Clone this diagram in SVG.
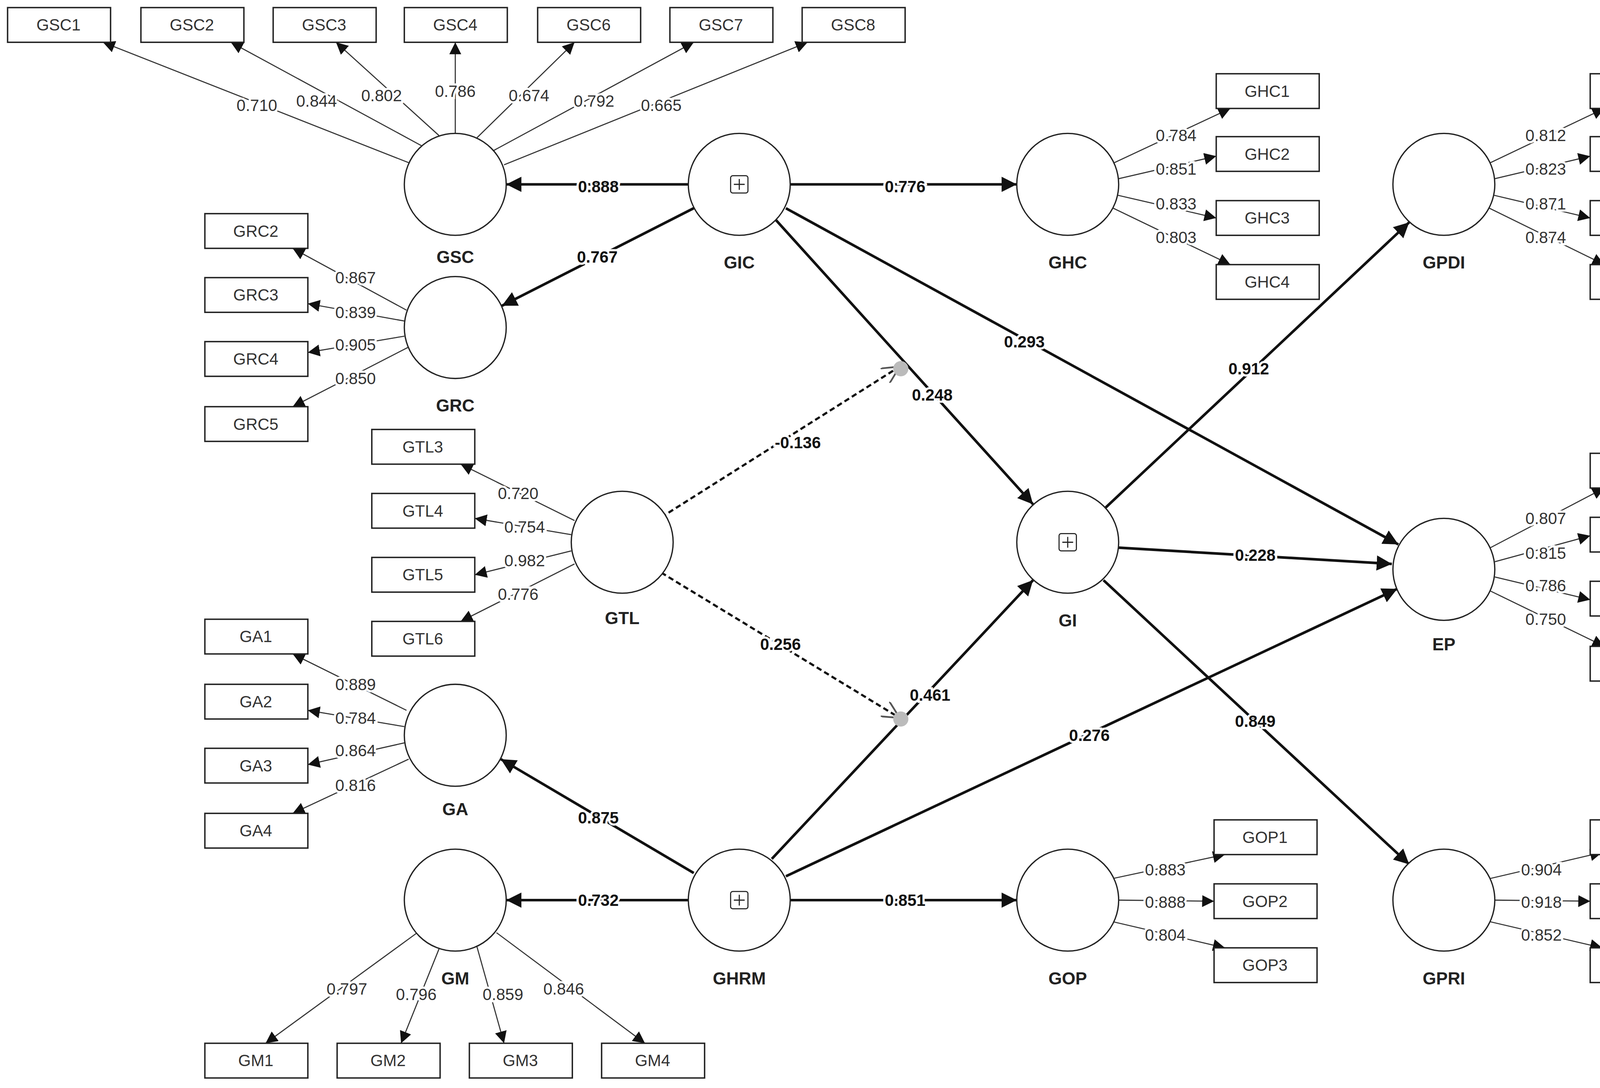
<svg xmlns="http://www.w3.org/2000/svg" width="4351" height="2784" viewBox="0 0 4351 2784">
<style>
.c{fill:#fff;stroke:#222;stroke-width:1.2}
.b{fill:#fff;stroke:#222;stroke-width:1.3}
.t{font-family:"Liberation Sans",Arial,sans-serif;font-size:15px;text-anchor:middle;dominant-baseline:central;fill:#333}
.n{font-family:"Liberation Sans",Arial,sans-serif;font-size:16px;font-weight:bold;text-anchor:middle;dominant-baseline:central;fill:#222}
.l{font-family:"Liberation Sans",Arial,sans-serif;font-size:15px;text-anchor:middle;dominant-baseline:central;fill:#333;stroke:#fff;stroke-width:4;paint-order:stroke}
.lb{font-family:"Liberation Sans",Arial,sans-serif;font-size:15px;font-weight:bold;text-anchor:middle;dominant-baseline:central;fill:#111;stroke:#fff;stroke-width:4;paint-order:stroke}
.o{stroke:#333;stroke-width:1;fill:none;marker-end:url(#a)}
.s{stroke:#111;stroke-width:2.4;fill:none;marker-end:url(#A)}
.d{stroke:#111;stroke-width:2;stroke-dasharray:5,3;fill:none;marker-end:url(#O)}
</style>
<defs>
<marker id="a" viewBox="0 0 10 10" refX="10" refY="5" markerWidth="11" markerHeight="11" markerUnits="userSpaceOnUse" orient="auto"><path d="M0,0L10,5L0,10z" fill="#111"/></marker>
<marker id="A" viewBox="0 0 10 10" refX="10" refY="5" markerWidth="14" markerHeight="14" markerUnits="userSpaceOnUse" orient="auto"><path d="M0,0L10,5L0,10z" fill="#111"/></marker>
<marker id="O" viewBox="0 0 10 10" refX="10" refY="5" markerWidth="16" markerHeight="16" markerUnits="userSpaceOnUse" orient="auto"><path d="M0,0L10,5L0,10" fill="none" stroke="#555" stroke-width="1"/></marker>
</defs>
<rect width="4351" height="2784" fill="#fff"/>
<g transform="scale(2.775)">
<g id="connectors">
<line class="o" x1="377" y1="150" x2="95" y2="39"/>
<line class="o" x1="390" y1="135" x2="213" y2="39"/>
<line class="o" x1="405" y1="125" x2="310" y2="39"/>
<line class="o" x1="420" y1="123" x2="420" y2="39"/>
<line class="o" x1="440" y1="127" x2="530" y2="39"/>
<line class="o" x1="455" y1="139" x2="640" y2="39"/>
<line class="o" x1="465" y1="152" x2="745" y2="39"/>
<line class="o" x1="1028" y1="150" x2="1135" y2="100"/>
<line class="o" x1="1031" y1="165" x2="1122" y2="144"/>
<line class="o" x1="1031" y1="180" x2="1122" y2="201"/>
<line class="o" x1="1027" y1="192" x2="1135" y2="244"/>
<line class="o" x1="1375" y1="150" x2="1480" y2="100"/>
<line class="o" x1="1378" y1="165" x2="1467" y2="144"/>
<line class="o" x1="1378" y1="180" x2="1467" y2="201"/>
<line class="o" x1="1374" y1="192" x2="1480" y2="244"/>
<line class="o" x1="375" y1="286" x2="270" y2="229"/>
<line class="o" x1="373" y1="296" x2="284" y2="280"/>
<line class="o" x1="373" y1="310" x2="284" y2="325"/>
<line class="o" x1="377" y1="320" x2="270" y2="375"/>
<line class="o" x1="530" y1="480" x2="425" y2="428"/>
<line class="o" x1="527" y1="493" x2="438" y2="478"/>
<line class="o" x1="527" y1="508" x2="438" y2="530"/>
<line class="o" x1="530" y1="520" x2="425" y2="573"/>
<line class="o" x1="375" y1="655" x2="270" y2="603"/>
<line class="o" x1="373" y1="670" x2="284" y2="655"/>
<line class="o" x1="373" y1="685" x2="284" y2="705"/>
<line class="o" x1="377" y1="700" x2="270" y2="750"/>
<line class="o" x1="385" y1="860" x2="245" y2="962"/>
<line class="o" x1="405" y1="875" x2="370" y2="962"/>
<line class="o" x1="440" y1="873" x2="465" y2="962"/>
<line class="o" x1="458" y1="860" x2="595" y2="962"/>
<line class="o" x1="1027" y1="810" x2="1130" y2="788"/>
<line class="o" x1="1032" y1="830" x2="1120" y2="831"/>
<line class="o" x1="1027" y1="850" x2="1130" y2="874"/>
<line class="o" x1="1375" y1="505" x2="1480" y2="450"/>
<line class="o" x1="1379" y1="518" x2="1467" y2="494"/>
<line class="o" x1="1379" y1="532" x2="1467" y2="553"/>
<line class="o" x1="1375" y1="545" x2="1480" y2="596"/>
<line class="o" x1="1375" y1="810" x2="1478" y2="786"/>
<line class="o" x1="1379" y1="830" x2="1467" y2="831"/>
<line class="o" x1="1375" y1="850" x2="1478" y2="874"/>
<line class="s" x1="635" y1="170" x2="467" y2="170"/>
<line class="s" x1="729" y1="170" x2="938" y2="170"/>
<line class="s" x1="640" y1="192" x2="463" y2="282"/>
<line class="s" x1="715" y1="202" x2="953" y2="465"/>
<line class="s" x1="725" y1="192" x2="1290" y2="502"/>
<line class="s" x1="1020" y1="468" x2="1300" y2="205"/>
<line class="s" x1="1032" y1="505" x2="1284" y2="520"/>
<line class="s" x1="1018" y1="535" x2="1300" y2="797"/>
<line class="s" x1="640" y1="805" x2="462" y2="700"/>
<line class="s" x1="635" y1="830" x2="467" y2="830"/>
<line class="s" x1="729" y1="830" x2="938" y2="830"/>
<line class="s" x1="712" y1="792" x2="953" y2="535"/>
<line class="s" x1="725" y1="808" x2="1289" y2="543"/>
<line class="d" x1="610" y1="477" x2="830" y2="338"/>
<line class="d" x1="610" y1="528" x2="830" y2="662"/>
<circle cx="831" cy="340" r="7" fill="#bbb"/>
<circle cx="831" cy="663" r="7" fill="#bbb"/>
<text class="l" x="237" y="97">0.710</text><text class="l" x="292" y="93">0.844</text><text class="l" x="352" y="88">0.802</text><text class="l" x="420" y="84">0.786</text><text class="l" x="488" y="88">0.674</text><text class="l" x="548" y="93">0.792</text><text class="l" x="610" y="97">0.665</text>
<text class="l" x="1085" y="125">0.784</text><text class="l" x="1085" y="156">0.851</text><text class="l" x="1085" y="188">0.833</text><text class="l" x="1085" y="219">0.803</text>
<text class="l" x="1426" y="125">0.812</text><text class="l" x="1426" y="156">0.823</text><text class="l" x="1426" y="188">0.871</text><text class="l" x="1426" y="219">0.874</text>
<text class="l" x="328" y="256">0.867</text><text class="l" x="328" y="288">0.839</text><text class="l" x="328" y="318">0.905</text><text class="l" x="328" y="349">0.850</text>
<text class="l" x="478" y="455">0.720</text><text class="l" x="484" y="486">0.754</text><text class="l" x="484" y="517">0.982</text><text class="l" x="478" y="548">0.776</text>
<text class="l" x="328" y="631">0.889</text><text class="l" x="328" y="662">0.784</text><text class="l" x="328" y="692">0.864</text><text class="l" x="328" y="724">0.816</text>
<text class="l" x="320" y="912">0.797</text><text class="l" x="384" y="917">0.796</text><text class="l" x="464" y="917">0.859</text><text class="l" x="520" y="912">0.846</text>
<text class="l" x="1075" y="802">0.883</text><text class="l" x="1075" y="832">0.888</text><text class="l" x="1075" y="862">0.804</text>
<text class="l" x="1426" y="478">0.807</text><text class="l" x="1426" y="510">0.815</text><text class="l" x="1426" y="540">0.786</text><text class="l" x="1426" y="571">0.750</text>
<text class="l" x="1422" y="802">0.904</text><text class="l" x="1422" y="832">0.918</text><text class="l" x="1422" y="862">0.852</text>
<text class="lb" x="552" y="172">0.888</text><text class="lb" x="835" y="172">0.776</text><text class="lb" x="551" y="237">0.767</text><text class="lb" x="860" y="364">0.248</text><text class="lb" x="945" y="315">0.293</text><text class="lb" x="1152" y="340">0.912</text><text class="lb" x="1158" y="512">0.228</text><text class="lb" x="1158" y="665">0.849</text><text class="lb" x="552" y="754">0.875</text><text class="lb" x="552" y="830">0.732</text><text class="lb" x="835" y="830">0.851</text><text class="lb" x="858" y="641">0.461</text><text class="lb" x="1005" y="678">0.276</text><text class="lb" x="736" y="408">-0.136</text><text class="lb" x="720" y="594">0.256</text>
</g>
<g id="indicators">
<g id="GSC1"><rect class="b" x="7" y="7" width="95" height="32"/><text class="t" x="54" y="23">GSC1</text></g>
<g id="GSC2"><rect class="b" x="130" y="7" width="95" height="32"/><text class="t" x="177" y="23">GSC2</text></g>
<g id="GSC3"><rect class="b" x="252" y="7" width="95" height="32"/><text class="t" x="299" y="23">GSC3</text></g>
<g id="GSC4"><rect class="b" x="373" y="7" width="95" height="32"/><text class="t" x="420" y="23">GSC4</text></g>
<g id="GSC6"><rect class="b" x="496" y="7" width="95" height="32"/><text class="t" x="543" y="23">GSC6</text></g>
<g id="GSC7"><rect class="b" x="618" y="7" width="95" height="32"/><text class="t" x="665" y="23">GSC7</text></g>
<g id="GSC8"><rect class="b" x="740" y="7" width="95" height="32"/><text class="t" x="787" y="23">GSC8</text></g>
<g id="GHC1"><rect class="b" x="1122" y="68" width="95" height="32"/><text class="t" x="1169" y="84">GHC1</text></g>
<g id="GHC2"><rect class="b" x="1122" y="126" width="95" height="32"/><text class="t" x="1169" y="142">GHC2</text></g>
<g id="GHC3"><rect class="b" x="1122" y="185" width="95" height="32"/><text class="t" x="1169" y="201">GHC3</text></g>
<g id="GHC4"><rect class="b" x="1122" y="244" width="95" height="32"/><text class="t" x="1169" y="260">GHC4</text></g>
<g id="GPDI1"><rect class="b" x="1467" y="68" width="95" height="32"/><text class="t" x="1514" y="84">GPDI1</text></g>
<g id="GPDI2"><rect class="b" x="1467" y="126" width="95" height="32"/><text class="t" x="1514" y="142">GPDI2</text></g>
<g id="GPDI3"><rect class="b" x="1467" y="185" width="95" height="32"/><text class="t" x="1514" y="201">GPDI3</text></g>
<g id="GPDI4"><rect class="b" x="1467" y="244" width="95" height="32"/><text class="t" x="1514" y="260">GPDI4</text></g>
<g id="GRC2"><rect class="b" x="189" y="197" width="95" height="32"/><text class="t" x="236" y="213">GRC2</text></g>
<g id="GRC3"><rect class="b" x="189" y="256" width="95" height="32"/><text class="t" x="236" y="272">GRC3</text></g>
<g id="GRC4"><rect class="b" x="189" y="315" width="95" height="32"/><text class="t" x="236" y="331">GRC4</text></g>
<g id="GRC5"><rect class="b" x="189" y="375" width="95" height="32"/><text class="t" x="236" y="391">GRC5</text></g>
<g id="GTL3"><rect class="b" x="343" y="396" width="95" height="32"/><text class="t" x="390" y="412">GTL3</text></g>
<g id="GTL4"><rect class="b" x="343" y="455" width="95" height="32"/><text class="t" x="390" y="471">GTL4</text></g>
<g id="GTL5"><rect class="b" x="343" y="514" width="95" height="32"/><text class="t" x="390" y="530">GTL5</text></g>
<g id="GTL6"><rect class="b" x="343" y="573" width="95" height="32"/><text class="t" x="390" y="589">GTL6</text></g>
<g id="GA1"><rect class="b" x="189" y="571" width="95" height="32"/><text class="t" x="236" y="587">GA1</text></g>
<g id="GA2"><rect class="b" x="189" y="631" width="95" height="32"/><text class="t" x="236" y="647">GA2</text></g>
<g id="GA3"><rect class="b" x="189" y="690" width="95" height="32"/><text class="t" x="236" y="706">GA3</text></g>
<g id="GA4"><rect class="b" x="189" y="750" width="95" height="32"/><text class="t" x="236" y="766">GA4</text></g>
<g id="GM1"><rect class="b" x="189" y="962" width="95" height="32"/><text class="t" x="236" y="978">GM1</text></g>
<g id="GM2"><rect class="b" x="311" y="962" width="95" height="32"/><text class="t" x="358" y="978">GM2</text></g>
<g id="GM3"><rect class="b" x="433" y="962" width="95" height="32"/><text class="t" x="480" y="978">GM3</text></g>
<g id="GM4"><rect class="b" x="555" y="962" width="95" height="32"/><text class="t" x="602" y="978">GM4</text></g>
<g id="GOP1"><rect class="b" x="1120" y="756" width="95" height="32"/><text class="t" x="1167" y="772">GOP1</text></g>
<g id="GOP2"><rect class="b" x="1120" y="815" width="95" height="32"/><text class="t" x="1167" y="831">GOP2</text></g>
<g id="GOP3"><rect class="b" x="1120" y="874" width="95" height="32"/><text class="t" x="1167" y="890">GOP3</text></g>
<g id="EP2"><rect class="b" x="1467" y="418" width="95" height="32"/><text class="t" x="1514" y="434">EP2</text></g>
<g id="EP3"><rect class="b" x="1467" y="477" width="95" height="32"/><text class="t" x="1514" y="493">EP3</text></g>
<g id="EP4"><rect class="b" x="1467" y="536" width="95" height="32"/><text class="t" x="1514" y="552">EP4</text></g>
<g id="EP5"><rect class="b" x="1467" y="596" width="95" height="32"/><text class="t" x="1514" y="612">EP5</text></g>
<g id="GPRI1"><rect class="b" x="1467" y="756" width="95" height="32"/><text class="t" x="1514" y="772">GPRI1</text></g>
<g id="GPRI2"><rect class="b" x="1467" y="815" width="95" height="32"/><text class="t" x="1514" y="831">GPRI2</text></g>
<g id="GPRI3"><rect class="b" x="1467" y="874" width="95" height="32"/><text class="t" x="1514" y="890">GPRI3</text></g>
</g>
<g id="GSC"><circle class="c" cx="420" cy="170" r="47"/><text class="n" x="420" y="237">GSC</text></g>
<g id="GIC"><circle class="c" cx="682" cy="170" r="47"/><rect x="674" y="162" width="16" height="16" rx="2" fill="none" stroke="#222"/><path d="M682,165V175M677,170H687" stroke="#222"/><text class="n" x="682" y="242">GIC</text></g>
<g id="GHC"><circle class="c" cx="985" cy="170" r="47"/><text class="n" x="985" y="242">GHC</text></g>
<g id="GPDI"><circle class="c" cx="1332" cy="170" r="47"/><text class="n" x="1332" y="242">GPDI</text></g>
<g id="GRC"><circle class="c" cx="420" cy="302" r="47"/><text class="n" x="420" y="374">GRC</text></g>
<g id="GTL"><circle class="c" cx="574" cy="500" r="47"/><text class="n" x="574" y="570">GTL</text></g>
<g id="GI"><circle class="c" cx="985" cy="500" r="47"/><rect x="977" y="492" width="16" height="16" rx="2" fill="none" stroke="#222"/><path d="M985,495V505M980,500H990" stroke="#222"/><text class="n" x="985" y="572">GI</text></g>
<g id="EP"><circle class="c" cx="1332" cy="525" r="47"/><text class="n" x="1332" y="594">EP</text></g>
<g id="GA"><circle class="c" cx="420" cy="678" r="47"/><text class="n" x="420" y="746">GA</text></g>
<g id="GM"><circle class="c" cx="420" cy="830" r="47"/><text class="n" x="420" y="902">GM</text></g>
<g id="GHRM"><circle class="c" cx="682" cy="830" r="47"/><rect x="674" y="822" width="16" height="16" rx="2" fill="none" stroke="#222"/><path d="M682,825V835M677,830H687" stroke="#222"/><text class="n" x="682" y="902">GHRM</text></g>
<g id="GOP"><circle class="c" cx="985" cy="830" r="47"/><text class="n" x="985" y="902">GOP</text></g>
<g id="GPRI"><circle class="c" cx="1332" cy="830" r="47"/><text class="n" x="1332" y="902">GPRI</text></g>
</g>
</svg>
